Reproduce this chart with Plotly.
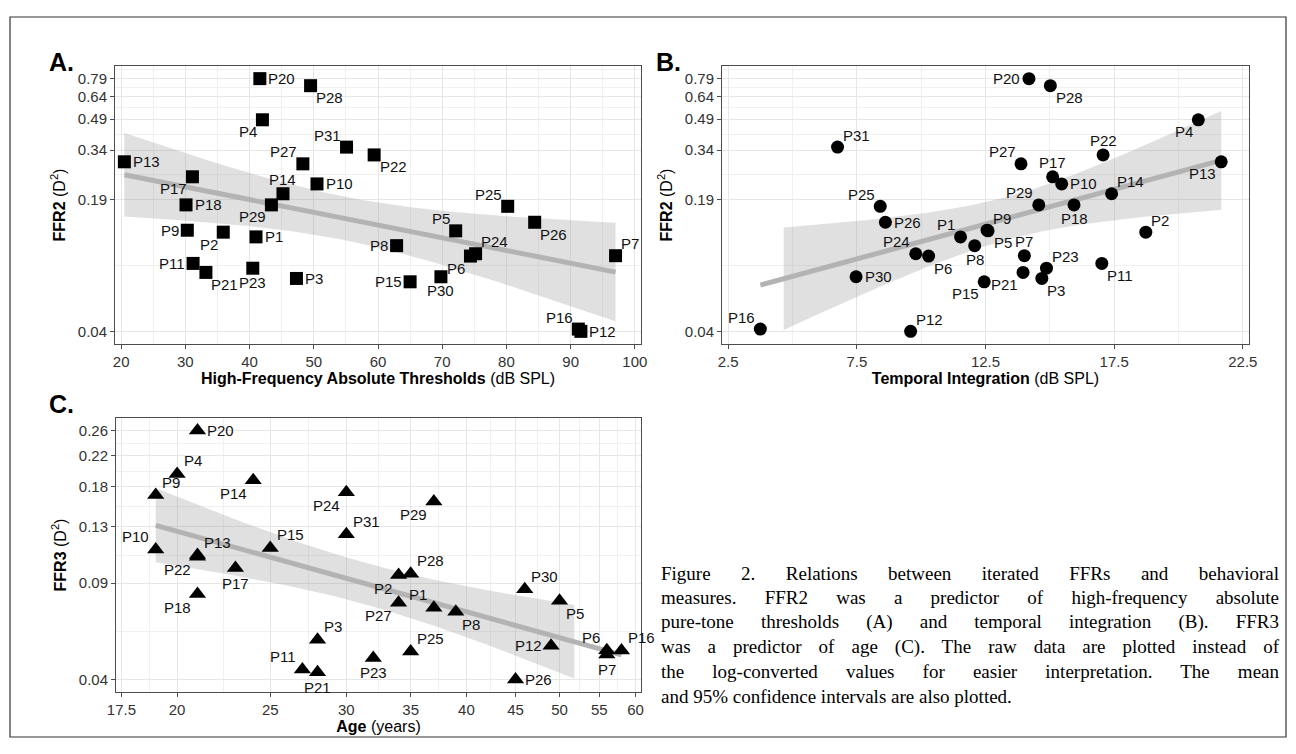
import json
import numpy as np
import plotly.graph_objects as go

# ---------------- data ----------------
PARTICIPANTS = ["P1", "P2", "P3", "P4", "P5", "P6", "P7", "P8", "P9", "P10",
                "P11", "P12", "P13", "P14", "P15", "P16", "P17", "P18", "P20", "P21",
                "P22", "P23", "P24", "P25", "P26", "P27", "P28", "P29", "P30", "P31"]

HF_THRESHOLD = [41.0, 35.9, 47.3, 42.0, 72.1, 74.4, 97.0, 62.9, 30.3, 50.5,
                31.2, 91.6, 20.5, 45.2, 65.0, 91.2, 31.1, 30.1, 41.6, 33.2,
                59.4, 40.5, 75.2, 80.2, 84.4, 48.3, 49.5, 43.4, 69.8, 55.1]

TEMPORAL_INTEGRATION = [11.53, 18.73, 14.69, 20.77, 12.60, 10.29, 14.01, 12.08, 12.56, 15.46,
                        17.02, 9.59, 21.66, 17.40, 12.45, 3.75, 15.11, 15.94, 14.19, 13.96,
                        17.07, 14.87, 9.79, 8.41, 8.61, 13.88, 15.02, 14.57, 7.47, 6.75]

FFR2 = [0.122, 0.129, 0.0747, 0.486, 0.131, 0.0973, 0.0977, 0.110, 0.132, 0.228,
        0.0892, 0.040, 0.296, 0.203, 0.0718, 0.0411, 0.248, 0.178, 0.790, 0.0802,
        0.321, 0.0843, 0.100, 0.175, 0.145, 0.289, 0.727, 0.178, 0.0762, 0.352]

AGE = [37, 34, 28, 20, 50, 56, 56, 39, 19, 19,
       27, 49, 21, 24, 25, 58, 23, 21, 21, 28,
       21, 32, 30, 35, 45, 34, 35, 37, 46, 30]

FFR3 = [0.0738, 0.0933, 0.0586, 0.1931, 0.0775, 0.0543, 0.0527, 0.0717, 0.1658, 0.1121,
        0.0473, 0.0561, 0.1077, 0.1845, 0.1134, 0.0542, 0.0981, 0.0814, 0.264, 0.0464,
        0.1064, 0.0514, 0.1694, 0.0538, 0.044, 0.0765, 0.0941, 0.1585, 0.0842, 0.1252]

X_TICKS_A = [20, 30, 40, 50, 60, 70, 80, 90, 100]
X_TICKS_B = [2.5, 7.5, 12.5, 17.5, 22.5]
X_TICK_LABELS_B = ["2.5", "7.5", "12.5", "17.5", "22.5"]
X_TICKS_C = [17.5, 20, 25, 30, 35, 40, 45, 50, 55, 60]
X_TICK_LABELS_C = ["17.5", "20", "25", "30", "35", "40", "45", "50", "55", "60"]
Y_TICK_LABELS_FFR2 = ["0.04", "0.19", "0.34", "0.49", "0.64", "0.79"]
Y_TICK_LABELS_FFR3 = ["0.04", "0.09", "0.13", "0.18", "0.22", "0.26"]

CAPTION_LINES = [
    "Figure 2. Relations between iterated FFRs and behavioral",
    "measures. FFR2 was a predictor of high-frequency absolute",
    "pure-tone thresholds (A) and temporal integration (B). FFR3",
    "was a predictor of age (C). The raw data are plotted instead of",
    "the log-converted values for easier interpretation. The mean",
    "and 95% confidence intervals are also plotted.",
]

# ---------------- label placement (style) ----------------
POS_A = {"P1": "middle right", "P2": "bottom left", "P3": "middle right", "P4": "bottom left",
         "P5": "top left", "P6": "bottom left", "P7": "top right", "P8": "middle left",
         "P9": "middle left", "P10": "middle right", "P11": "middle left", "P12": "middle right",
         "P13": "middle right", "P14": "top center", "P15": "middle left", "P16": "top left",
         "P17": "bottom left", "P18": "middle right", "P20": "middle right", "P21": "bottom right",
         "P22": "bottom right", "P23": "bottom center", "P24": "top right", "P25": "top left",
         "P26": "bottom right", "P27": "top left", "P28": "bottom right", "P29": "bottom left",
         "P30": "bottom center", "P31": "top left"}
POS_B = {"P1": "top left", "P2": "top right", "P3": "bottom right", "P4": "bottom left",
         "P5": "bottom right", "P6": "bottom right", "P7": "top center", "P8": "bottom center",
         "P9": "top right", "P10": "middle right", "P11": "bottom right", "P12": "top right",
         "P13": "bottom left", "P14": "top right", "P15": "bottom left", "P16": "top left",
         "P17": "top center", "P18": "bottom center", "P20": "middle left", "P21": "bottom left",
         "P22": "top center", "P23": "top right", "P24": "top left", "P25": "top left",
         "P26": "middle right", "P27": "top left", "P28": "bottom right", "P29": "top left",
         "P30": "middle right", "P31": "top right"}
POS_C = {"P1": "top left", "P2": "bottom left", "P3": "top right", "P4": "top right",
         "P5": "bottom right", "P6": "top left", "P7": "bottom center", "P8": "bottom right",
         "P9": "top right", "P10": "top left", "P11": "top left", "P12": "middle left",
         "P13": "top right", "P14": "bottom left", "P15": "top right", "P16": "top right",
         "P17": "bottom center", "P18": "bottom left", "P20": "middle right", "P21": "bottom center",
         "P22": "bottom left", "P23": "bottom center", "P24": "bottom left", "P25": "top right",
         "P26": "middle right", "P27": "bottom left", "P28": "top right", "P29": "bottom left",
         "P30": "top right", "P31": "top right"}

# the page body keeps its default 8px margin, so the figure is drawn 8px in
OFF = 8
W, H = 1296 - OFF, 754 - OFF
FONT = "Liberation Sans, Arial, Helvetica, sans-serif"
SERIF = "Liberation Serif, Times New Roman, serif"


def sx(px):
    return (px - OFF) / W


def sy(py):
    return 1 - (py - OFF) / H


def t_quantile(df, z=1.959963985):
    g1 = (z ** 3 + z) / 4
    g2 = (5 * z ** 5 + 16 * z ** 3 + 3 * z) / 96
    g3 = (3 * z ** 7 + 19 * z ** 5 + 17 * z ** 3 - 15 * z) / 384
    return z + g1 / df + g2 / df ** 2 + g3 / df ** 3


def lm_band(x, y, xlog):
    tx = np.log10(np.asarray(x, float)) if xlog else np.asarray(x, float)
    ty = np.log10(np.asarray(y, float))
    n = len(tx)
    b1, b0 = np.polyfit(tx, ty, 1)
    res = ty - (b0 + b1 * tx)
    s = np.sqrt(np.sum(res ** 2) / (n - 2))
    grid = np.linspace(tx.min(), tx.max(), 80)
    fit = b0 + b1 * grid
    se = s * np.sqrt(1 / n + (grid - tx.mean()) ** 2 / np.sum((tx - tx.mean()) ** 2))
    t = t_quantile(n - 2)
    lo, hi = fit - t * se, fit + t * se
    ok = (lo >= ty.min() - 1e-9) & (hi <= ty.max() + 1e-9)
    gx = 10 ** grid if xlog else grid
    return gx, 10 ** fit, 10 ** lo, 10 ** hi, ok


def label_annotation(name, x, y, xa, ya, code, r):
    vpos, hpos = code.split()
    d = dict(text=name, x=x, y=y, xref=xa, yref=ya, showarrow=False,
             font=dict(family=FONT, size=15, color="#111111"), borderpad=0)
    if hpos == "right":
        d["xanchor"] = "left"
        d["xshift"] = (r + 1) if vpos == "middle" else (r - 2)
    elif hpos == "left":
        d["xanchor"] = "right"
        d["xshift"] = -(r + 1) if vpos == "middle" else -(r - 2)
    else:
        d["xanchor"] = "center"
        d["xshift"] = 0
    if vpos == "top":
        d["yanchor"] = "bottom"
        d["yshift"] = (r - 4) if hpos != "center" else r - 2
    elif vpos == "bottom":
        d["yanchor"] = "top"
        d["yshift"] = -(r - 4) if hpos != "center" else -(r - 2)
    else:
        d["yanchor"] = "middle"
        d["yshift"] = 0
    return d


fig = go.Figure()
annotations = []

panels = [
    ("x", "y", HF_THRESHOLD, FFR2, False, "square", 13, POS_A),
    ("x2", "y2", TEMPORAL_INTEGRATION, FFR2, False, "circle", 13, POS_B),
    ("x3", "y3", AGE, FFR3, True, "triangle-up", 15, POS_C),
]

for xa, ya, xs, ys, xlog, sym, msize, pos in panels:
    gx, fit, lo, hi, ok = lm_band(xs, ys, xlog)
    bx = np.concatenate([gx[ok], gx[ok][::-1]])
    by = np.concatenate([hi[ok], lo[ok][::-1]])
    fig.add_trace(go.Scatter(x=bx, y=by, xaxis=xa, yaxis=ya, mode="lines", fill="toself",
                             fillcolor="rgba(153,153,153,0.3)", line=dict(width=0),
                             hoverinfo="skip", showlegend=False))
    fig.add_trace(go.Scatter(x=gx, y=fit, xaxis=xa, yaxis=ya, mode="lines",
                             line=dict(color="#b3b3b3", width=5), hoverinfo="skip",
                             showlegend=False))
    fig.add_trace(go.Scatter(x=xs, y=ys, xaxis=xa, yaxis=ya, mode="markers",
                             text=PARTICIPANTS,
                             marker=dict(symbol=sym, size=msize, color="black"),
                             cliponaxis=False, showlegend=False))
    # annotations on log axes take log10 coordinates
    for name, xv, yv in zip(PARTICIPANTS, xs, ys):
        ax_x = float(np.log10(xv)) if xlog else float(xv)
        ax_y = float(np.log10(yv))
        annotations.append(label_annotation(name, ax_x, ax_y, xa, ya, pos[name], msize / 2))


def log_minor(vals):
    lv = np.log10(vals)
    mids = list((lv[:-1] + lv[1:]) / 2)
    mids = [lv[0] - (lv[1] - lv[0]) / 2] + mids + [lv[-1] + (lv[-1] - lv[-2]) / 2]
    return list(10 ** np.array(mids))


def lin_minor(vals):
    v = np.asarray(vals, float)
    mids = list((v[:-1] + v[1:]) / 2)
    return [v[0] - (v[1] - v[0]) / 2] + mids + [v[-1] + (v[-1] - v[-2]) / 2]


def y_log_range(vals):
    lv = np.log10(vals)
    w = lv.max() - lv.min()
    return [lv.min() - 0.05 * w, lv.max() + 0.05 * w]


def lim_range(lo, hi, frac=0.012):
    w = hi - lo
    return [lo - frac * w, hi + frac * w]


y2_ticks = list(np.linspace(min(FFR2), max(FFR2), 6))
y3_ticks = list(np.linspace(min(FFR3), max(FFR3), 6))

common = dict(showline=True, linecolor="#4d4d4d", linewidth=1, mirror=True,
              ticks="outside", ticklen=4, tickcolor="#4d4d4d", tickwidth=1,
              tickfont=dict(family=FONT, size=15, color="#333333"), automargin=False,
              showgrid=True, gridcolor="#e6e6e6", gridwidth=1.3, zeroline=False)
minor_style = dict(showgrid=True, gridcolor="#f0f0f0", gridwidth=0.8, ticks="")
title_font = dict(family=FONT, size=16, color="black")

layout = dict(
    width=W, height=H, margin=dict(l=0, r=0, t=0, b=0, autoexpand=False),
    paper_bgcolor="white", plot_bgcolor="white", showlegend=False,
    xaxis=dict(domain=[sx(115), sx(641)], anchor="y", range=lim_range(20, 100),
               tickvals=X_TICKS_A, minor=dict(tickvals=lin_minor(X_TICKS_A), **minor_style),
               title=dict(text="<b>High-Frequency Absolute Thresholds</b> (dB SPL)",
                          font=title_font, standoff=3), **common),
    yaxis=dict(domain=[sy(344), sy(66)], anchor="x", type="log", range=y_log_range(FFR2),
               tickvals=y2_ticks, ticktext=Y_TICK_LABELS_FFR2,
               minor=dict(tickvals=log_minor(y2_ticks), **minor_style),
               title=dict(text="<b>FFR2</b> (D<sup>2</sup>)", font=title_font, standoff=8),
               **common),
    xaxis2=dict(domain=[sx(722), sx(1249)], anchor="y2", range=lim_range(2.5, 22.5),
                tickvals=X_TICKS_B, ticktext=X_TICK_LABELS_B,
                minor=dict(tickvals=lin_minor(X_TICKS_B), **minor_style),
                title=dict(text="<b>Temporal Integration</b> (dB SPL)", font=title_font,
                           standoff=3), **common),
    yaxis2=dict(domain=[sy(344), sy(66)], anchor="x2", type="log", range=y_log_range(FFR2),
                tickvals=y2_ticks, ticktext=Y_TICK_LABELS_FFR2,
                minor=dict(tickvals=log_minor(y2_ticks), **minor_style),
                title=dict(text="<b>FFR2</b> (D<sup>2</sup>)", font=title_font, standoff=8),
                **common),
    xaxis3=dict(domain=[sx(116), sx(641)], anchor="y3", type="log",
                range=lim_range(np.log10(17.5), np.log10(60), 0.0105),
                tickvals=X_TICKS_C, ticktext=X_TICK_LABELS_C,
                minor=dict(tickvals=log_minor(X_TICKS_C), **minor_style),
                title=dict(text="<b>Age</b> (years)", font=title_font, standoff=3), **common),
    yaxis3=dict(domain=[sy(692), sy(418)], anchor="x3", type="log", range=y_log_range(FFR3),
                tickvals=y3_ticks, ticktext=Y_TICK_LABELS_FFR3,
                minor=dict(tickvals=log_minor(y3_ticks), **minor_style),
                title=dict(text="<b>FFR3</b> (D<sup>2</sup>)", font=title_font, standoff=8),
                **common),
)
fig.update_layout(**layout)

for letter, xpx, ypx in [("A.", 47, 62), ("B.", 654, 62), ("C.", 47, 404)]:
    annotations.append(dict(text=f"<b>{letter}</b>", x=sx(xpx), y=sy(ypx), xref="paper",
                            yref="paper", xanchor="left", yanchor="middle", showarrow=False,
                            font=dict(family=FONT, size=25, color="black")))
for i, line in enumerate(CAPTION_LINES):
    annotations.append(dict(text=line, x=sx(659), y=sy(573 + i * 24.7), xref="paper",
                            yref="paper", xanchor="left", yanchor="middle", align="left",
                            showarrow=False, font=dict(family=SERIF, size=19, color="black")))
fig.update_layout(annotations=annotations)

fig.add_shape(type="rect", xref="paper", yref="paper", x0=sx(10), x1=sx(1286),
              y0=sy(737), y1=sy(17), line=dict(color="#333333", width=1.2),
              fillcolor="rgba(0,0,0,0)", layer="above")

# justify the caption lines (all but the last) to the same width, like the source
JUSTIFY_SCRIPT = """
(function(){
  var lines = %s;
  var target = %f;
  function justify(){
    var gd = document.getElementById('{plot_id}');
    if(!gd) return;
    var texts = gd.querySelectorAll('text.annotation-text');
    texts.forEach(function(t){
      var s = t.textContent;
      if(lines.indexOf(s) < 0) return;
      t.style.wordSpacing = '0px';
      var len = t.getComputedTextLength();
      var n = (s.match(/ /g) || []).length;
      if(n > 0 && len < target) t.style.wordSpacing = ((target - len) / n) + 'px';
    });
  }
  justify();
  setTimeout(justify, 30);
  setTimeout(justify, 300);
})();
""" % (json.dumps(CAPTION_LINES[:-1]), 1278 - 660)

fig.write_html("out.html", config={"displayModeBar": False}, post_script=JUSTIFY_SCRIPT)
